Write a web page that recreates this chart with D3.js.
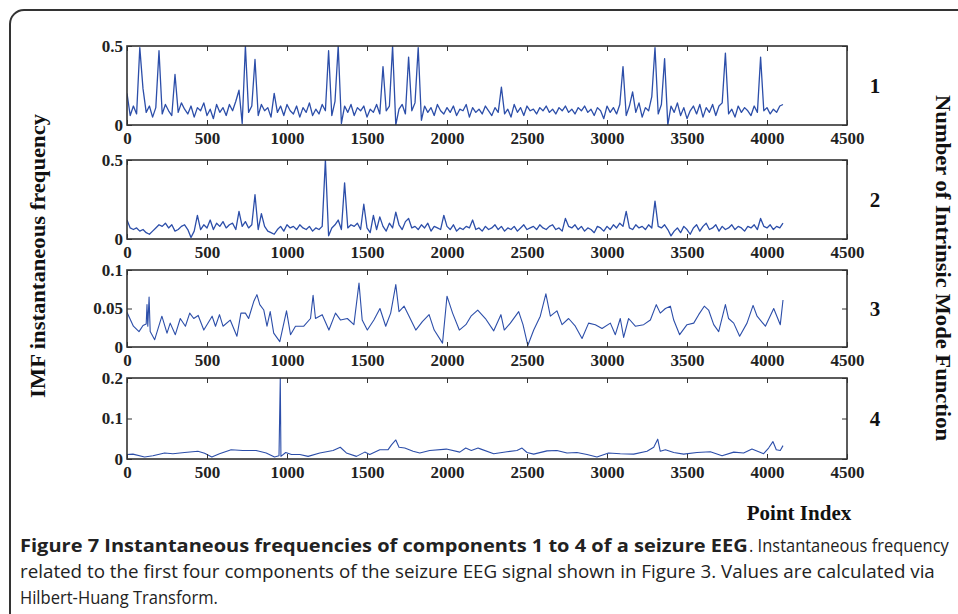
<!DOCTYPE html>
<html lang="en">
<head>
<meta charset="UTF-8">
<title>IMF instantaneous frequency</title>
<script src="https://d3js.org/d3.v7.min.js"></script>
<style>
  body { margin: 0; background: #fff; }
  svg { display: block; }
  .tick text { font-family: "Liberation Serif", serif; font-weight: bold; font-size: 17px; fill: #222; }
  .tick line { stroke: #333; stroke-width: 1; }
  .title { font-family: "Liberation Serif", serif; font-weight: bold; font-size: 21px; fill: #111; }
  .cap { font-family: "Open Sans", sans-serif; font-size: 18.5px; fill: #222; }
</style>
</head>
<body>
<svg id="chart" width="958" height="614"></svg>
<script>
// x axis
const xTicks = [0, 500, 1000, 1500, 2000, 2500, 3000, 3500, 4000, 4500];
const step = 20; // sampling of imf1 / imf2 (point index)

// component 1 instantaneous frequency, one value every 20 points
const imf1 = [
  0.20,0.06,0.12,0.07,0.49,0.23,0.08,0.12,0.05,0.11,
  0.47,0.07,0.13,0.09,0.06,0.32,0.08,0.14,0.10,0.07,
  0.12,0.05,0.11,0.09,0.14,0.06,0.10,0.04,0.13,0.08,
  0.11,0.06,0.13,0.09,0.15,0.22,0.01,0.50,0.08,0.12,
  0.415,0.06,0.13,0.09,0.11,0.05,0.20,0.08,0.12,0.06,
  0.13,0.09,0.07,0.12,0.05,0.11,0.08,0.14,0.06,0.10,
  0.07,0.13,0.09,0.47,0.06,0.15,0.50,0.01,0.12,0.08,
  0.13,0.06,0.11,0.09,0.12,0.05,0.10,0.08,0.13,0.07,
  0.37,0.09,0.12,0.50,0.00,0.10,0.13,0.07,0.43,0.09,
  0.14,0.49,0.03,0.12,0.08,0.11,0.06,0.13,0.09,0.07,
  0.11,0.08,0.12,0.06,0.10,0.09,0.13,0.05,0.11,0.08,
  0.10,0.07,0.12,0.09,0.06,0.11,0.08,0.24,0.07,0.10,
  0.05,0.13,0.08,0.11,0.06,0.12,0.09,0.10,0.07,0.11,
  0.09,0.12,0.08,0.10,0.07,0.11,0.09,0.12,0.08,0.10,
  0.07,0.11,0.09,0.12,0.08,0.10,0.06,0.11,0.09,0.04,
  0.12,0.08,0.11,0.07,0.13,0.37,0.06,0.12,0.21,0.08,
  0.14,0.05,0.11,0.09,0.18,0.49,0.07,0.13,0.42,0.00,
  0.12,0.08,0.14,0.06,0.11,0.04,0.09,0.12,0.07,0.13,
  0.05,0.11,0.08,0.13,0.06,0.12,0.14,0.455,0.07,0.10,
  0.05,0.12,0.08,0.11,0.09,0.06,0.12,0.08,0.43,0.09,
  0.11,0.07,0.10,0.08,0.12,0.13
];

// component 2, one value every 20 points
const imf2 = [
  0.12,0.07,0.06,0.07,0.05,0.06,0.04,0.03,0.05,0.07,
  0.09,0.08,0.10,0.07,0.09,0.05,0.06,0.08,0.09,0.06,
  0.01,0.05,0.15,0.06,0.09,0.07,0.12,0.06,0.10,0.08,
  0.11,0.07,0.09,0.10,0.06,0.175,0.08,0.11,0.07,0.09,
  0.28,0.06,0.16,0.08,0.05,0.04,0.03,0.06,0.08,0.05,
  0.09,0.07,0.08,0.06,0.09,0.07,0.06,0.08,0.05,0.07,
  0.06,0.08,0.50,0.02,0.07,0.09,0.12,0.06,0.355,0.07,
  0.09,0.08,0.10,0.06,0.22,0.07,0.04,0.15,0.06,0.14,
  0.08,0.05,0.10,0.07,0.17,0.09,0.06,0.11,0.13,0.07,
  0.08,0.06,0.09,0.07,0.10,0.05,0.08,0.07,0.06,0.15,
  0.08,0.06,0.09,0.05,0.07,0.06,0.08,0.07,0.12,0.06,
  0.07,0.05,0.08,0.06,0.07,0.09,0.06,0.08,0.05,0.07,
  0.06,0.08,0.05,0.07,0.09,0.06,0.07,0.08,0.06,0.09,
  0.07,0.06,0.08,0.09,0.06,0.07,0.05,0.13,0.08,0.07,
  0.09,0.06,0.08,0.05,0.07,0.06,0.04,0.08,0.07,0.05,
  0.08,0.06,0.09,0.07,0.10,0.08,0.175,0.07,0.06,0.09,
  0.07,0.08,0.06,0.09,0.07,0.24,0.08,0.07,0.09,0.06,
  0.02,0.05,0.07,0.04,0.08,0.06,0.03,0.07,0.09,0.05,
  0.08,0.10,0.06,0.07,0.09,0.05,0.08,0.06,0.07,0.09,
  0.06,0.08,0.07,0.05,0.08,0.07,0.09,0.06,0.13,0.08,
  0.07,0.09,0.06,0.08,0.07,0.10
];

// component 3, read point by point
const imf3X = [0,40,75,100,120,125,130,138,145,173,218,250,270,302,333,365,392,417,445,480,532,553,578,600,645,687,712,740,760,792,812,830,855,875,895,917,955,997,1022,1053,1105,1147,1163,1178,1220,1262,1303,1335,1377,1418,1450,1470,1502,1543,1581,1617,1648,1680,1700,1732,1763,1805,1846,1888,1920,1972,2000,2035,2077,2118,2150,2192,2240,2292,2337,2358,2396,2448,2475,2505,2542,2583,2618,2646,2687,2719,2760,2802,2844,2885,2927,2969,3021,3052,3083,3104,3135,3177,3229,3271,3308,3333,3365,3396,3417,3454,3500,3542,3573,3608,3635,3667,3698,3740,3760,3792,3829,3875,3913,3938,3990,4042,4083,4100];
const imf3Y = [0.045,0.027,0.020,0.028,0.030,0.055,0.027,0.065,0.020,0.0095,0.040,0.018,0.031,0.016,0.037,0.027,0.044,0.037,0.041,0.022,0.040,0.027,0.042,0.027,0.035,0.014,0.044,0.044,0.037,0.059,0.068,0.055,0.048,0.027,0.046,0.018,0.007,0.047,0.016,0.027,0.027,0.037,0.067,0.037,0.042,0.022,0.044,0.035,0.037,0.029,0.083,0.035,0.022,0.035,0.050,0.027,0.044,0.081,0.046,0.053,0.040,0.022,0.033,0.042,0.022,0.005,0.066,0.044,0.022,0.029,0.040,0.048,0.037,0.021,0.042,0.022,0.031,0.046,0.029,0.002,0.022,0.040,0.069,0.040,0.047,0.029,0.037,0.027,0.011,0.031,0.029,0.024,0.031,0.016,0.037,0.0125,0.037,0.027,0.029,0.035,0.055,0.044,0.050,0.053,0.035,0.016,0.029,0.031,0.042,0.053,0.048,0.029,0.020,0.055,0.037,0.031,0.014,0.031,0.054,0.040,0.027,0.050,0.029,0.061];

// component 4, read point by point
const imf4X = [0,37,110,162,235,287,360,443,485,530,578,651,724,807,870,922,950,958,962,992,1028,1080,1132,1205,1288,1333,1371,1434,1486,1517,1580,1632,1653,1680,1700,1736,1788,1830,1892,1996,2080,2117,2152,2194,2208,2292,2375,2437,2469,2500,2542,2625,2687,2750,2812,2875,2937,3010,3083,3167,3250,3292,3317,3333,3365,3417,3479,3562,3646,3719,3792,3854,3906,3979,4010,4037,4058,4083,4100];
const imf4Y = [0.011,0.012,0.005,0.008,0.015,0.013,0.016,0.019,0.014,0.005,0.013,0.023,0.021,0.021,0.015,0.005,0.008,0.200,0.0065,0.016,0.011,0.011,0.0065,0.015,0.021,0.029,0.015,0.0065,0.017,0.011,0.023,0.023,0.035,0.047,0.029,0.027,0.019,0.015,0.021,0.0245,0.017,0.027,0.021,0.027,0.025,0.013,0.018,0.021,0.027,0.016,0.012,0.020,0.021,0.015,0.016,0.011,0.005,0.015,0.013,0.012,0.019,0.029,0.049,0.019,0.023,0.016,0.012,0.016,0.018,0.008,0.017,0.015,0.0245,0.013,0.027,0.043,0.023,0.021,0.033];

const yTicks1 = [0, 0.5];
const yTicks2 = [0, 0.5];
const yTicks3 = [0, 0.05, 0.1];
const yTicks4 = [0, 0.1, 0.2];
const imfNames = ["1", "2", "3", "4"];

const svg = d3.select("#chart");
const lineColor = "#2c4ea9";

// frame round the figure, running off the right and bottom edges
svg.append("rect")
  .attr("x", 10).attr("y", 10)
  .attr("width", 1000).attr("height", 700)
  .attr("rx", 14)
  .attr("fill", "none")
  .attr("stroke", "#333")
  .attr("stroke-width", 2);

const x = d3.scaleLinear().domain([0, 4500]).range([127, 847]);

const panels = [
  { xs: imf1.map((d, i) => i * step), ys: imf1, yMax: 0.5, ticks: yTicks1, top: 46, bottom: 125 },
  { xs: imf2.map((d, i) => i * step), ys: imf2, yMax: 0.5, ticks: yTicks2, top: 160, bottom: 239 },
  { xs: imf3X, ys: imf3Y, yMax: 0.1, ticks: yTicks3, top: 270, bottom: 347 },
  { xs: imf4X, ys: imf4Y, yMax: 0.2, ticks: yTicks4, top: 378, bottom: 459 }
];

panels.forEach((p, k) => {
  const y = d3.scaleLinear().domain([0, p.yMax]).range([p.bottom, p.top]);
  const g = svg.append("g");

  g.append("clipPath").attr("id", "clip" + k)
    .append("rect")
    .attr("x", x(0)).attr("y", p.top)
    .attr("width", x(4500) - x(0)).attr("height", p.bottom - p.top);

  const line = d3.line()
    .x(i => x(p.xs[i]))
    .y(i => y(p.ys[i]));

  g.append("path")
    .attr("clip-path", "url(#clip" + k + ")")
    .attr("d", line(d3.range(p.xs.length)))
    .attr("fill", "none")
    .attr("stroke", lineColor)
    .attr("stroke-width", k < 2 ? 1.3 : 1.1)
    .attr("stroke-linejoin", "round");

  // inward ticks on all four sides
  g.append("g")
    .attr("transform", `translate(0,${p.bottom})`)
    .call(d3.axisBottom(x).tickValues(xTicks).tickSizeInner(-5).tickSizeOuter(0).tickPadding(7).tickFormat(d3.format("d")))
    .call(a => a.select(".domain").remove());
  g.append("g")
    .attr("transform", `translate(0,${p.top})`)
    .call(d3.axisTop(x).tickValues(xTicks).tickSizeInner(-5).tickSizeOuter(0).tickFormat(""))
    .call(a => a.select(".domain").remove());
  g.append("g")
    .attr("transform", `translate(${x(0)},0)`)
    .call(d3.axisLeft(y).tickValues(p.ticks).tickSizeInner(-5).tickSizeOuter(0).tickPadding(4).tickFormat(d3.format("~g")))
    .call(a => a.select(".domain").remove());
  g.append("g")
    .attr("transform", `translate(${x(4500)},0)`)
    .call(d3.axisRight(y).tickValues(p.ticks).tickSizeInner(-5).tickSizeOuter(0).tickFormat(""))
    .call(a => a.select(".domain").remove());

  g.append("rect")
    .attr("x", x(0)).attr("y", p.top)
    .attr("width", x(4500) - x(0)).attr("height", p.bottom - p.top)
    .attr("fill", "none")
    .attr("stroke", "#333")
    .attr("stroke-width", 1.6);

  g.append("text")
    .attr("class", "title")
    .attr("x", 875)
    .attr("y", (p.top + p.bottom) / 2)
    .attr("dy", "0.35em")
    .attr("text-anchor", "middle")
    .text(imfNames[k]);
});

svg.append("text")
  .attr("class", "title")
  .attr("transform", "translate(38,256) rotate(-90)")
  .attr("dy", "0.35em")
  .attr("text-anchor", "middle")
  .attr("textLength", 284).attr("lengthAdjust", "spacingAndGlyphs")
  .text("IMF instantaneous frequency");

svg.append("text")
  .attr("class", "title")
  .attr("transform", "translate(943,268) rotate(90)")
  .attr("dy", "0.35em")
  .attr("text-anchor", "middle")
  .attr("textLength", 346).attr("lengthAdjust", "spacingAndGlyphs")
  .text("Number of Intrinsic Mode Function");

svg.append("text")
  .attr("class", "title")
  .attr("x", 799).attr("y", 520)
  .attr("text-anchor", "middle")
  .text("Point Index");

// caption: each piece squeezed horizontally to the width it has in the figure
function captionLine(x0, y0, width, txt, bold) {
  const t = svg.append("text").attr("class", "cap")
    .attr("font-weight", bold ? "bold" : null)
    .attr("fill", bold ? "#111" : null)
    .text(txt);
  const sx = width / t.node().getComputedTextLength();
  t.attr("transform", `translate(${x0},${y0}) scale(${sx},1)`);
}
captionLine(20, 552, 728, "Figure 7 Instantaneous frequencies of components 1 to 4 of a seizure EEG", true);
captionLine(749, 552, 200, ". Instantaneous frequency", false);
captionLine(20, 578, 916, "related to the first four components of the seizure EEG signal shown in Figure 3. Values are calculated via", false);
captionLine(20, 604, 198, "Hilbert-Huang Transform.", false);
</script>
</body>
</html>
